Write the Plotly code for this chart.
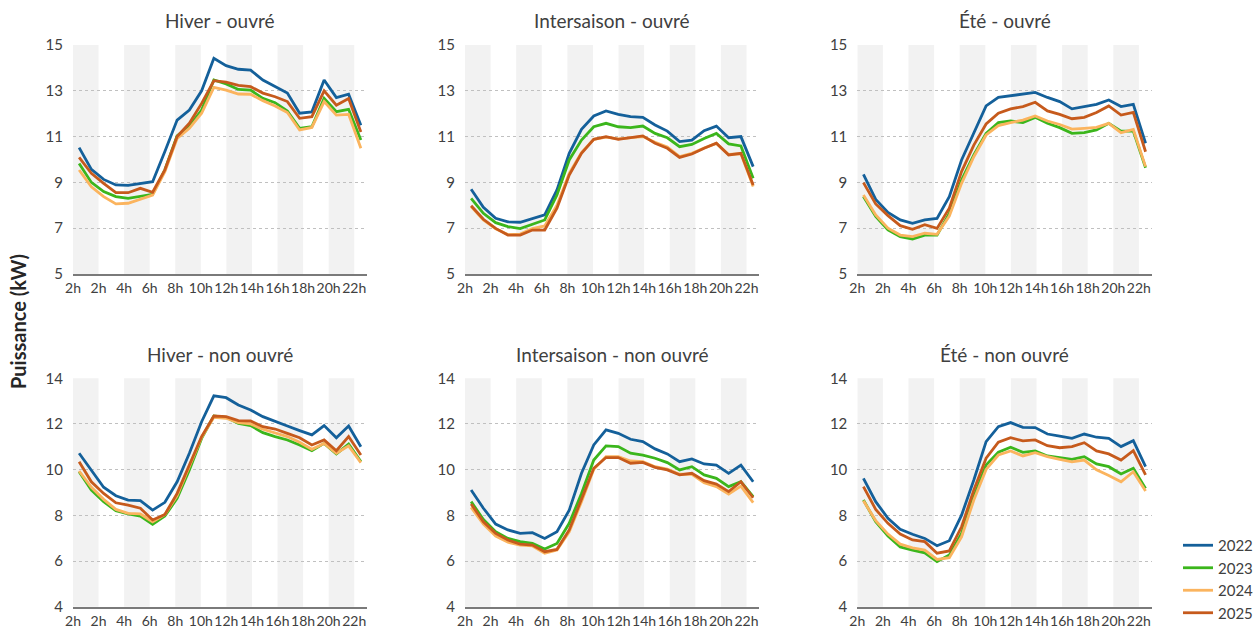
import plotly.graph_objects as go

# ---------------- data ----------------
years = ["2022", "2023", "2024", "2025"]
colors = {"2022": "#14609a", "2023": "#3bb61c", "2024": "#fbb45e", "2025": "#c65a1c"}

hours = list(range(24))  # hourly points (category index)
tick_labels = ["2h", "2h", "4h", "6h", "8h", "10h", "12h", "14h", "16h", "18h", "20h", "22h"]
tick_units = [0, 2, 4, 6, 8, 10, 12, 14, 16, 18, 20, 22]   # positions on the 0..23 label scale
band_starts = [0, 4, 8, 12, 16, 20]                       # grey bands on the label scale (2 units wide)

panel_titles = ["Hiver - ouvré", "Intersaison - ouvré", "Été - ouvré",
                "Hiver - non ouvré", "Intersaison - non ouvré", "Été - non ouvré"]

hiver_ouvre = {
    "2022": [10.52, 9.57, 9.13, 8.89, 8.87, 8.96, 9.03, 10.35, 11.72, 12.16, 13.0, 14.42,
             14.1, 13.94, 13.9, 13.47, 13.2, 12.9, 12.02, 12.08, 13.47, 12.7, 12.85, 11.5],
    "2023": [9.83, 9.0, 8.6, 8.38, 8.3, 8.38, 8.48, 9.55, 11.03, 11.46, 12.16, 13.47,
             13.3, 13.06, 13.03, 12.67, 12.48, 12.12, 11.36, 11.43, 12.67, 12.09, 12.19, 10.85],
    "2024": [9.54, 8.81, 8.38, 8.06, 8.09, 8.26, 8.45, 9.47, 10.92, 11.36, 12.02, 13.15,
             13.03, 12.86, 12.85, 12.57, 12.34, 12.05, 11.29, 11.4, 12.53, 11.94, 11.97, 10.49],
    "2025": [10.09, 9.4, 8.96, 8.55, 8.55, 8.74, 8.57, 9.55, 11.0, 11.58, 12.45, 13.44,
             13.38, 13.24, 13.18, 12.9, 12.74, 12.53, 11.8, 11.87, 13.0, 12.37, 12.66, 11.2],
}
intersaison_ouvre = {
    "2022": [8.7, 7.91, 7.43, 7.28, 7.26, 7.43, 7.58, 8.67, 10.27, 11.32, 11.9, 12.12,
             11.97, 11.87, 11.84, 11.51, 11.24, 10.78, 10.85, 11.26, 11.46, 10.95, 11.0, 9.69],
    "2023": [8.3, 7.65, 7.24, 7.07, 6.98, 7.17, 7.36, 8.45, 9.98, 10.85, 11.43, 11.58,
             11.43, 11.39, 11.46, 11.14, 10.95, 10.56, 10.66, 10.92, 11.14, 10.68, 10.59, 9.18],
    "2024": [7.95, 7.36, 6.97, 6.72, 6.74, 6.98, 7.1, 8.0, 9.4, 10.3, 10.88, 10.98,
             10.9, 10.96, 11.0, 10.75, 10.55, 10.13, 10.27, 10.5, 10.7, 10.22, 10.25, 8.82],
    "2025": [7.98, 7.39, 6.99, 6.7, 6.7, 6.92, 6.92, 7.87, 9.32, 10.27, 10.88, 11.0,
             10.88, 10.94, 11.03, 10.71, 10.49, 10.09, 10.24, 10.49, 10.71, 10.2, 10.27, 8.89],
}
ete_ouvre = {
    "2022": [9.35, 8.26, 7.69, 7.36, 7.21, 7.36, 7.43, 8.38, 9.98, 11.14, 12.34, 12.71,
             12.79, 12.85, 12.93, 12.71, 12.53, 12.21, 12.31, 12.41, 12.6, 12.31, 12.41, 10.71],
    "2023": [8.38, 7.51, 6.93, 6.63, 6.53, 6.7, 6.7, 7.65, 9.1, 10.2, 11.14, 11.61,
             11.68, 11.61, 11.84, 11.58, 11.39, 11.14, 11.17, 11.29, 11.58, 11.24, 11.24, 9.64],
    "2024": [8.45, 7.58, 7.0, 6.7, 6.63, 6.78, 6.73, 7.53, 8.96, 10.12, 11.07, 11.48,
             11.61, 11.72, 11.9, 11.68, 11.53, 11.33, 11.36, 11.4, 11.58, 11.17, 11.31, 9.69],
    "2025": [8.99, 8.06, 7.55, 7.11, 6.95, 7.15, 6.99, 7.87, 9.47, 10.63, 11.55, 12.02,
             12.21, 12.31, 12.5, 12.12, 11.97, 11.78, 11.84, 12.05, 12.34, 11.94, 12.06, 10.34],
}
hiver_non_ouvre = {
    "2022": [10.72, 9.99, 9.23, 8.86, 8.67, 8.64, 8.23, 8.57, 9.47, 10.72, 12.1, 13.23,
             13.15, 12.83, 12.61, 12.32, 12.1, 11.91, 11.71, 11.52, 11.93, 11.4, 11.91, 11.0],
    "2023": [9.91, 9.11, 8.6, 8.2, 8.06, 7.97, 7.61, 7.97, 8.74, 9.99, 11.37, 12.35,
             12.29, 12.03, 11.93, 11.62, 11.45, 11.3, 11.08, 10.83, 11.15, 10.69, 11.12, 10.35],
    "2024": [9.94, 9.23, 8.7, 8.26, 8.09, 8.06, 7.72, 8.04, 8.86, 10.13, 11.42, 12.29,
             12.25, 12.06, 12.0, 11.77, 11.62, 11.45, 11.2, 10.89, 11.15, 10.72, 11.04, 10.31],
    "2025": [10.35, 9.47, 8.96, 8.55, 8.45, 8.31, 7.8, 8.04, 8.96, 10.2, 11.45, 12.35,
             12.32, 12.15, 12.13, 11.88, 11.78, 11.59, 11.4, 11.08, 11.3, 10.83, 11.45, 10.64],
}
intersaison_non_ouvre = {
    "2022": [9.11, 8.31, 7.62, 7.36, 7.21, 7.24, 6.99, 7.28, 8.23, 9.84, 11.08, 11.74,
             11.59, 11.33, 11.23, 10.91, 10.69, 10.35, 10.47, 10.25, 10.2, 9.84, 10.2, 9.47],
    "2023": [8.6, 7.82, 7.28, 6.99, 6.85, 6.77, 6.53, 6.77, 7.65, 8.96, 10.42, 11.04,
             11.01, 10.72, 10.64, 10.5, 10.31, 9.99, 10.13, 9.77, 9.62, 9.26, 9.47, 8.82],
    "2024": [8.35, 7.62, 7.09, 6.82, 6.7, 6.66, 6.34, 6.48, 7.28, 8.6, 10.02, 10.57,
             10.57, 10.38, 10.35, 10.13, 10.02, 9.8, 9.8, 9.43, 9.26, 8.93, 9.28, 8.56],
    "2025": [8.5, 7.72, 7.21, 6.92, 6.74, 6.7, 6.41, 6.51, 7.36, 8.67, 10.06, 10.53,
             10.53, 10.28, 10.32, 10.1, 9.99, 9.77, 9.84, 9.52, 9.37, 9.04, 9.47, 8.77],
}
ete_non_ouvre = {
    "2022": [9.62, 8.6, 7.87, 7.39, 7.17, 6.99, 6.67, 6.89, 8.01, 9.55, 11.23, 11.88,
             12.06, 11.85, 11.84, 11.56, 11.47, 11.37, 11.56, 11.42, 11.37, 11.01, 11.27, 10.13],
    "2023": [8.67, 7.72, 7.09, 6.62, 6.48, 6.36, 5.97, 6.26, 7.21, 8.82, 10.2, 10.76,
             10.98, 10.76, 10.82, 10.6, 10.53, 10.45, 10.57, 10.25, 10.13, 9.81, 10.06, 9.18],
    "2024": [8.64, 7.77, 7.18, 6.74, 6.58, 6.48, 6.07, 6.15, 7.06, 8.67, 10.01, 10.64,
             10.82, 10.6, 10.74, 10.57, 10.45, 10.34, 10.42, 9.99, 9.74, 9.47, 9.91, 9.07],
    "2025": [9.26, 8.26, 7.65, 7.18, 6.92, 6.85, 6.34, 6.44, 7.5, 9.11, 10.5, 11.2,
             11.4, 11.26, 11.3, 11.05, 10.96, 11.01, 11.18, 10.82, 10.69, 10.42, 10.83, 9.77],
}

panels = [hiver_ouvre, intersaison_ouvre, ete_ouvre,
          hiver_non_ouvre, intersaison_non_ouvre, ete_non_ouvre]
row_ranges = [[5, 15], [4, 14]]
row_ticks = [[5, 7, 9, 11, 13, 15], [4, 6, 8, 10, 12, 14]]

# ---------------- layout geometry ----------------
W, H = 1259, 630
col_px = [(73, 367), (465, 759.3), (857.3, 1151.7)]
row_px = [(45, 274), (378.3, 606.7)]

FONT = "Lato, 'Open Sans', sans-serif"
TXT = "#404040"

# category axis: 24 hourly categories; label scale spans 23 units over same width
X_RANGE = [-0.5, 23.5]
def lab2x(u):
    return X_RANGE[0] + u * (X_RANGE[1] - X_RANGE[0]) / 23.0

fig = go.Figure()
shapes = []
annotations = []

for p, data in enumerate(panels):
    r, c = divmod(p, 3)
    idx = p + 1
    xa = "x" if idx == 1 else f"x{idx}"
    ya = "y" if idx == 1 else f"y{idx}"
    for yr in years:
        fig.add_trace(go.Scatter(
            x=hours, y=data[yr], mode="lines", name=yr,
            line=dict(color=colors[yr], width=2.8),
            xaxis=xa, yaxis=ya, showlegend=(p == 0), legendgroup=yr,
            hoverinfo="skip"))
    x0, x1 = col_px[c]
    y0, y1 = row_px[r]
    xkey = "xaxis" if idx == 1 else f"xaxis{idx}"
    ykey = "yaxis" if idx == 1 else f"yaxis{idx}"
    fig.update_layout(**{
        xkey: dict(domain=[x0 / W, x1 / W], anchor=ya, range=X_RANGE,
                   tickvals=[lab2x(u) for u in tick_units], ticktext=tick_labels,
                   tickangle=0, automargin=False,
                   showgrid=False, zeroline=False, showline=True,
                   linecolor="#7a7a7a", linewidth=2, ticks="", ticklabelstandoff=0,
                   tickfont=dict(family=FONT, size=14, color=TXT), fixedrange=True),
        ykey: dict(domain=[1 - y1 / H, 1 - y0 / H], anchor=xa, range=row_ranges[r],
                   tickvals=row_ticks[r], showgrid=True, gridcolor="#c0c0c0",
                   griddash="dot", gridwidth=1, zeroline=False, showline=False,
                   ticks="", ticklabelstandoff=9, automargin=False,
                   tickfont=dict(family=FONT, size=15, color=TXT), fixedrange=True),
    })
    for b in band_starts:
        shapes.append(dict(type="rect", xref=xa, yref=f"{ya} domain",
                           x0=lab2x(b), x1=lab2x(b + 2), y0=0, y1=1,
                           fillcolor="#f2f2f2", line=dict(width=0), layer="below"))
    annotations.append(dict(text=panel_titles[p], xref="paper", yref="paper",
                            x=(x0 + x1) / 2 / W, y=1 - (y0 - 24) / H,
                            xanchor="center", yanchor="middle", showarrow=False,
                            font=dict(family=FONT, size=19, color=TXT)))

annotations.append(dict(text="<b>Puissance (kW)</b>", xref="paper", yref="paper",
                        x=18 / W, y=1 - 322 / H, textangle=-90,
                        xanchor="center", yanchor="middle", showarrow=False,
                        font=dict(family=FONT, size=20, color="#262626")))

fig.update_layout(
    width=W, height=H,
    margin=dict(l=0, r=0, t=0, b=0),
    paper_bgcolor="white", plot_bgcolor="white",
    shapes=shapes, annotations=annotations,
    legend=dict(x=1.0, y=1 - 529 / H, xanchor="right", yanchor="top",
                font=dict(family=FONT, size=15, color=TXT),
                bgcolor="rgba(0,0,0,0)", tracegroupgap=0, itemwidth=30),
    showlegend=True,
)

fig.write_html("out.html", config={"displayModeBar": False},
               post_script="document.body.style.margin='0';document.body.style.overflow='hidden';")
